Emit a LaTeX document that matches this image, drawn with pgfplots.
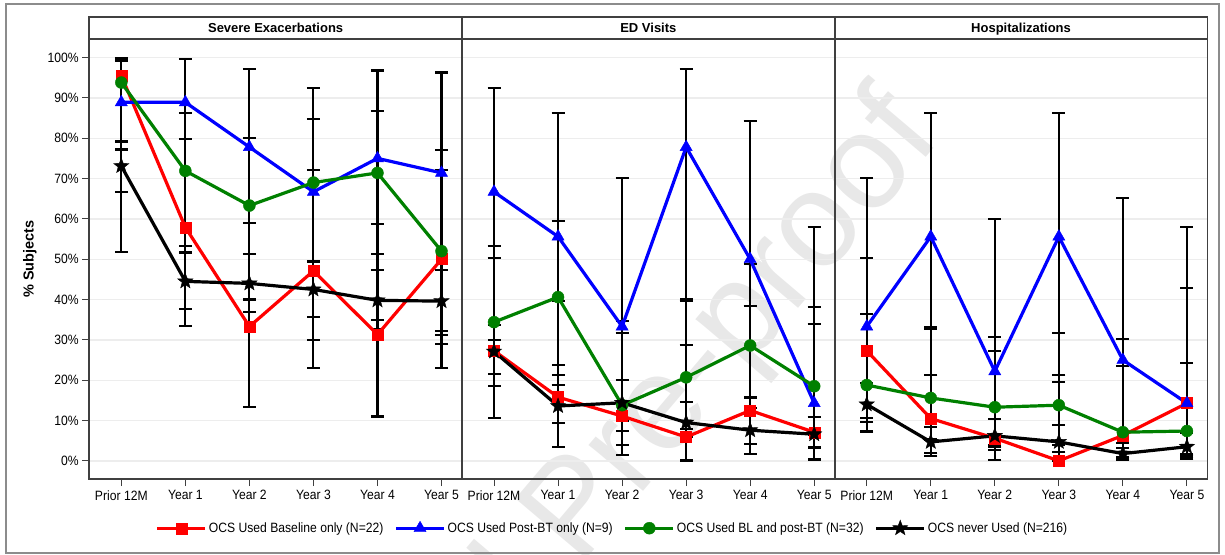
\documentclass[border=0pt]{standalone}
\usepackage{fontspec}
\setmainfont{Liberation Sans}
\newfontfamily\narrow{Liberation Sans}[FakeStretch=0.9]
\usepackage{pgfplots}
\pgfplotsset{compat=1.18}
\usepackage{pgfplotstable}
\usetikzlibrary{backgrounds}

\definecolor{dgreen}{RGB}{0,128,0}
\definecolor{frame}{RGB}{64,64,64}

\pgfdeclareplotmark{fstar}{%
  \pgfpathmoveto{\pgfqpointpolar{90}{\pgfplotmarksize}}%
  \pgfpathlineto{\pgfqpointpolar{126}{0.42\pgfplotmarksize}}%
  \pgfpathlineto{\pgfqpointpolar{162}{\pgfplotmarksize}}%
  \pgfpathlineto{\pgfqpointpolar{198}{0.42\pgfplotmarksize}}%
  \pgfpathlineto{\pgfqpointpolar{234}{\pgfplotmarksize}}%
  \pgfpathlineto{\pgfqpointpolar{270}{0.42\pgfplotmarksize}}%
  \pgfpathlineto{\pgfqpointpolar{306}{\pgfplotmarksize}}%
  \pgfpathlineto{\pgfqpointpolar{342}{0.42\pgfplotmarksize}}%
  \pgfpathlineto{\pgfqpointpolar{18}{\pgfplotmarksize}}%
  \pgfpathlineto{\pgfqpointpolar{54}{0.42\pgfplotmarksize}}%
  \pgfpathclose
  \pgfusepathqfillstroke}

% ---------- Severe Exacerbations ----------
\pgfplotstableread{
x y lo hi
0 95.5 77.2 99.9
1 57.9 33.5 79.7
2 33.3 13.3 59.0
3 47.1 23.0 72.2
4 31.3 11.0 58.7
5 50.0 23.0 77.0
}\seRed
\pgfplotstableread{
x y lo hi
0 88.9 51.8 99.7
1 88.9 51.8 99.7
2 77.8 40.0 97.2
3 66.7 29.9 92.5
4 75.0 34.9 96.8
5 71.4 29.0 96.3
}\seBlue
\pgfplotstableread{
x y lo hi
0 93.8 79.2 99.2
1 71.9 53.3 86.3
2 63.3 43.9 80.1
3 69.0 49.2 84.8
4 71.4 51.3 86.8
5 52.0 31.3 72.2
}\seGreen
\pgfplotstableread{
x y lo hi
0 73.1 66.6 79.0
1 44.5 37.6 51.5
2 44.0 36.9 51.4
3 42.5 35.7 49.6
4 39.8 32.8 47.4
5 39.6 32.2 47.3
}\seBlack
% ---------- ED Visits ----------
\pgfplotstableread{
x y lo hi
0 27.3 10.7 50.2
1 15.8 3.4 39.6
2 11.1 1.4 34.7
3 5.9 0.1 28.7
4 12.5 1.6 38.3
5 7.1 0.2 33.9
}\edRed
\pgfplotstableread{
x y lo hi
0 66.7 29.9 92.5
1 55.6 21.2 86.3
2 33.3 7.5 70.1
3 77.8 40.0 97.2
4 50.0 15.7 84.3
5 14.3 0.4 57.9
}\edBlue
\pgfplotstableread{
x y lo hi
0 34.4 18.6 53.2
1 40.6 23.7 59.4
2 13.8 3.9 31.7
3 20.7 8.0 39.7
4 28.6 13.2 48.7
5 18.5 6.3 38.1
}\edGreen
\pgfplotstableread{
x y lo hi
0 27.1 21.5 33.6
1 13.6 9.3 18.8
2 14.4 9.8 20.1
3 9.5 5.9 14.6
4 7.6 4.2 11.9
5 6.6 3.3 10.9
}\edBlack
% ---------- Hospitalizations ----------
\pgfplotstableread{
x y lo hi
0 27.3 10.7 50.2
1 10.5 1.3 33.1
2 5.6 0.1 27.3
3 0.0 0.0 19.5
4 6.3 0.2 30.2
5 14.3 1.8 42.8
}\hoRed
\pgfplotstableread{
x y lo hi
0 33.3 7.5 70.1
1 55.6 21.2 86.3
2 22.2 2.8 60.0
3 55.6 21.2 86.3
4 25.0 3.2 65.1
5 14.3 0.4 57.9
}\hoBlue
\pgfplotstableread{
x y lo hi
0 18.8 7.2 36.4
1 15.6 5.3 32.8
2 13.3 3.8 30.7
3 13.8 3.9 31.7
4 7.1 0.9 23.5
5 7.4 0.9 24.3
}\hoGreen
\pgfplotstableread{
x y lo hi
0 14.0 9.7 19.4
1 4.7 2.0 8.4
2 6.2 3.4 10.3
3 4.7 2.1 9.0
4 1.8 0.5 4.5
5 3.5 1.4 7.0
}\hoBlack

\newcommand\tickfont{\narrow\fontsize{13.5}{16}\selectfont}

\pgfplotsset{
  panel/.style={
    scale only axis, width=372.7pt, height=440pt, anchor=south west,
    xmin=-0.5, xmax=5.32, ymin=-4.5, ymax=104.6,
    xtick={0,...,5},
    xticklabels={Prior 12M,Year 1,Year 2,Year 3,Year 4,Year 5},
    ytick={0,10,...,100},
    ymajorgrids, major grid style={black!7, line width=1.3pt},
    tick align=outside, major tick length=7pt,
    xtick pos=left, ytick pos=left,
    tick style={frame, line width=1pt},
    axis line style={frame, line width=1.8pt},
    ticklabel style={font=\tickfont},
    xticklabel style={yshift=-1pt},
  },
  sRed/.style={red, line width=3.2pt, mark=square*, mark size=5.5pt, mark options={solid, line width=0.4pt}},
  sBlue/.style={blue, line width=3.2pt, mark=triangle*, mark size=7pt, mark options={solid, line width=0.4pt}},
  sGreen/.style={dgreen, line width=3.2pt, mark=*, mark size=6pt, mark options={solid, line width=0.4pt}},
  sBlack/.style={black, line width=3.2pt, mark=fstar, mark size=8pt, mark options={solid, line width=0.4pt}},
  legend image code/.code={\draw[mark repeat=2,mark phase=2,#1] plot coordinates {(0pt,0pt) (24pt,0pt) (48pt,0pt)};},
}

\newcommand\ebar[1]{\addplot[forget plot, only marks, mark=none,
   error bars/.cd, y dir=both, y explicit,
   error bar style={black, line width=2.1pt, solid},
   error mark options={rotate=90, black, mark size=6.5pt, line width=2.1pt}]
   table[x=x, y=y, y error plus expr=\thisrow{hi}-\thisrow{y}, y error minus expr=\thisrow{y}-\thisrow{lo}] {#1};}

\begin{document}
\begin{tikzpicture}
\path[use as bounding box] (-89.3pt,-75pt) rectangle (1135.7pt,479pt);

\begin{pgfonlayer}{background}
\node[rotate=49.7, text=black!9, font=\fontsize{135}{135}\selectfont, inner sep=0pt] at (490pt,-34pt) {Journal Pre-proof};
\end{pgfonlayer}

% Panel 1
\begin{axis}[panel, at={(0pt,0pt)},
   yticklabels={0\%,10\%,20\%,30\%,40\%,50\%,60\%,70\%,80\%,90\%,100\%}]
\ebar{\seRed}\ebar{\seBlue}\ebar{\seGreen}\ebar{\seBlack}
\addplot[sRed] table[x=x,y=y] {\seRed};
\addplot[sBlue] table[x=x,y=y] {\seBlue};
\addplot[sGreen] table[x=x,y=y] {\seGreen};
\addplot[sBlack] table[x=x,y=y] {\seBlack};
\end{axis}

% Panel 2
\begin{axis}[panel, at={(372.7pt,0pt)}, yticklabels={}, ytick style={draw=none},
   legend columns=4,
   legend style={at={(axis description cs:0.4038,-0.1114)}, anchor=center, draw=none, fill=none,
     font=\tickfont, /tikz/every even column/.append style={column sep=9pt}},
   legend cell align=left]
\ebar{\edRed}\ebar{\edBlue}\ebar{\edGreen}\ebar{\edBlack}
\addplot[sRed] table[x=x,y=y] {\edRed};
\addlegendentry{OCS Used Baseline only (N=22)}
\addplot[sBlue] table[x=x,y=y] {\edBlue};
\addlegendentry{OCS Used Post-BT only (N=9)}
\addplot[sGreen] table[x=x,y=y] {\edGreen};
\addlegendentry{OCS Used BL and post-BT (N=32)}
\addplot[sBlack] table[x=x,y=y] {\edBlack};
\addlegendentry{OCS never Used (N=216)}
\end{axis}

% Panel 3
\begin{axis}[panel, at={(745.4pt,0pt)}, yticklabels={}, ytick style={draw=none}]
\ebar{\hoRed}\ebar{\hoBlue}\ebar{\hoGreen}\ebar{\hoBlack}
\addplot[sRed] table[x=x,y=y] {\hoRed};
\addplot[sBlue] table[x=x,y=y] {\hoBlue};
\addplot[sGreen] table[x=x,y=y] {\hoGreen};
\addplot[sBlack] table[x=x,y=y] {\hoBlack};
\end{axis}

% headers
\draw[frame, line width=1.8pt, fill=white] (0pt,440pt) rectangle (372.7pt,462pt);
\draw[frame, line width=1.8pt, fill=white] (372.7pt,440pt) rectangle (745.4pt,462pt);
\draw[frame, line width=1.8pt, fill=white] (745.4pt,440pt) rectangle (1118.1pt,462pt);
\node[font=\bfseries\fontsize{13}{15}\selectfont, anchor=base] at (186.35pt,446.8pt) {Severe Exacerbations};
\node[font=\bfseries\fontsize{13}{15}\selectfont, anchor=base] at (559.05pt,446.8pt) {ED Visits};
\node[font=\bfseries\fontsize{13}{15}\selectfont, anchor=base] at (931.75pt,446.8pt) {Hospitalizations};

% y label
\node[rotate=90, font=\bfseries\fontsize{14.5}{17}\selectfont] at (-59.3pt,220pt) {\% Subjects};

% outer frame
\draw[black!45, line width=1.2pt] (-83.3pt,-74pt) rectangle (1129.7pt,475pt);
\end{tikzpicture}
\end{document}
